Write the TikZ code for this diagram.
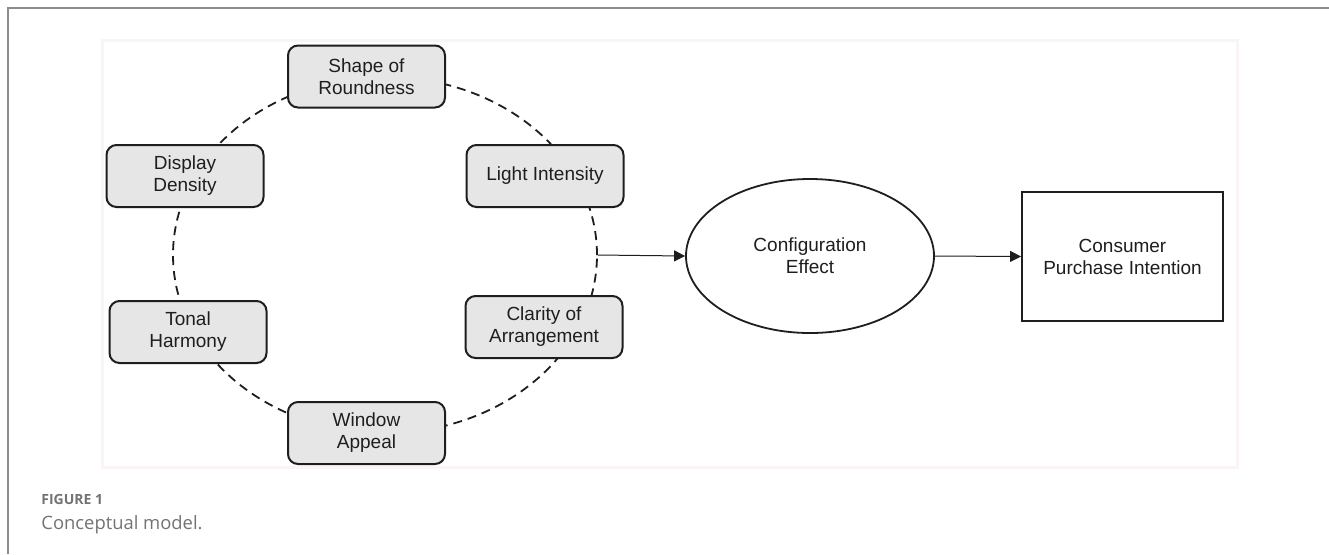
\documentclass[tikz,border=0pt]{standalone}
\usepackage{fontspec}
\setmainfont{Liberation Sans}
\newfontfamily\capfont{Open Sans}
\usetikzlibrary{shapes.geometric,arrows.meta}
\definecolor{framegray}{HTML}{8C8C8C}
\definecolor{boxfill}{HTML}{E6E6E6}
\definecolor{ink}{HTML}{1E1E1E}
\definecolor{capgray}{HTML}{737373}
\definecolor{panelline}{HTML}{FBF4F4}
\tikzset{
  factor/.style={draw=ink, line width=1pt, fill=boxfill, rounded corners=5pt,
    minimum width=78.5pt, minimum height=31pt, align=center, text=ink,
    font=\fontsize{9.5pt}{11pt}\selectfont, inner sep=2pt},
  ringstyle/.style={draw=ink, ellipse, dash pattern=on 4.5pt off 3pt,
    line width=0.9pt, minimum width=212pt, minimum height=178pt, inner sep=0pt},
  mediator/.style={draw=ink, ellipse, line width=0.9pt, minimum width=124pt,
    minimum height=77pt, align=center, text=ink, inner sep=0pt,
    font=\fontsize{9.5pt}{11pt}\selectfont},
  outcome/.style={draw=ink, rectangle, line width=0.9pt, minimum width=100.5pt,
    minimum height=64.5pt, align=center, text=ink, inner sep=0pt,
    font=\fontsize{9.5pt}{11pt}\selectfont},
  link/.style={draw=ink, line width=0.5pt, -{Triangle[length=5.5pt,width=5.5pt]}},
}
\begin{document}
\begin{tikzpicture}[x=0.5pt,y=-0.5pt]
\useasboundingbox (0,0) rectangle (1329,554);
\fill[white] (0,0) rectangle (1329,554);
% frame lines
\draw[framegray, line width=1pt] (7,7.5) -- (1329,7.5);
\draw[framegray, line width=1pt] (7.5,7) -- (7.5,554);
% panel border
\draw[panelline, line width=1.5pt] (102,40) rectangle (1237,467);
% dashed ring
\node[ringstyle] (ring) at (385,255) {};
% factors
\node[factor] (shape) at (366.5,76.5) {Shape of\\Roundness};
\node[factor] (display) at (185,176) {Display\\Density};
\node[factor] (light) at (545,176) {Light Intensity};
\node[factor] (tonal) at (188,332) {Tonal\\Harmony};
\node[factor] (clarity) at (544,327) {Clarity of\\Arrangement};
\node[factor] (window) at (366.5,433) {Window\\Appeal};
% mediator and outcome
\node[mediator] (config) at (810,256) {Configuration\\Effect};
\node[outcome] (consumer) at (1122.5,256.5) {Consumer\\Purchase Intention};
\draw[link] (ring.east) -- (config.west);
\draw[link] (config.east) -- (consumer.west);
% caption
\node[anchor=base west, inner sep=0pt, text=capgray, font=\capfont\bfseries\fontsize{7pt}{8pt}\selectfont] (figlabel) at (41,504) {FIGURE 1};
\node[anchor=base west, inner sep=0pt, text=capgray, font=\capfont\fontsize{9.2pt}{11pt}\selectfont] (figcap) at (41,529) {Conceptual model.};
\end{tikzpicture}
\end{document}
